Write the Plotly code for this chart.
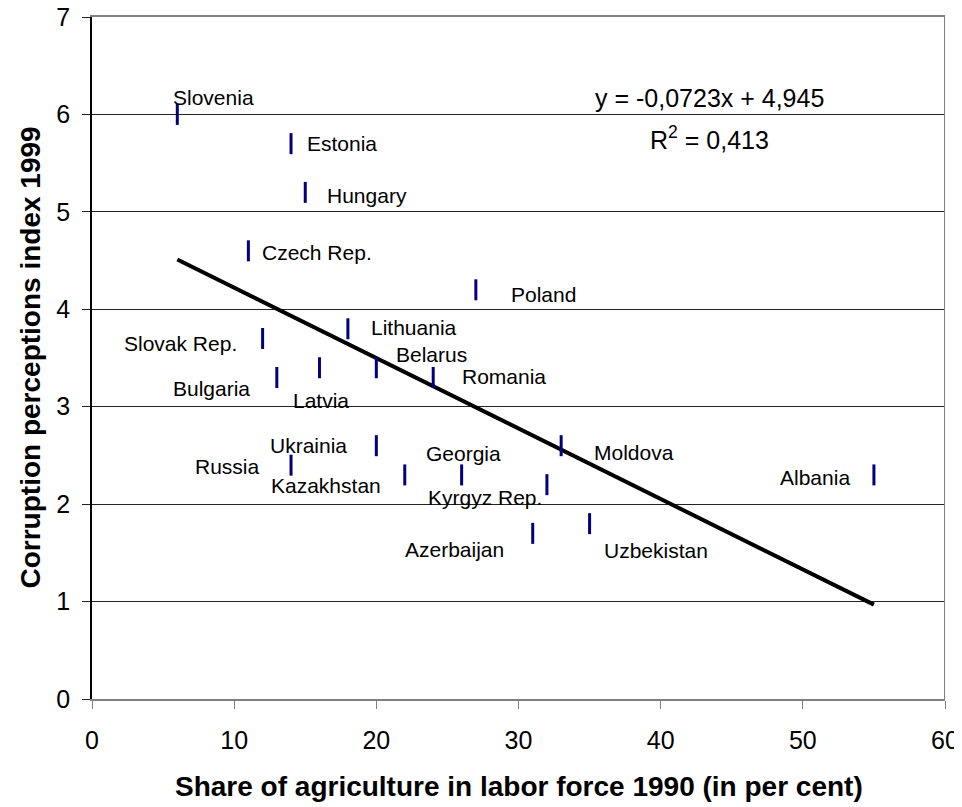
import numpy as np
import plotly.graph_objects as go

# data
countries = ['Slovenia', 'Estonia', 'Hungary', 'Czech Rep.', 'Poland', 'Lithuania',
             'Slovak Rep.', 'Bulgaria', 'Latvia', 'Belarus', 'Romania', 'Ukrainia',
             'Russia', 'Kazakhstan', 'Georgia', 'Moldova', 'Kyrgyz Rep.', 'Albania',
             'Azerbaijan', 'Uzbekistan']
agri_share = [6, 14, 15, 11, 27, 18, 12, 13, 16, 20, 24, 20, 14, 22, 26, 33, 32, 55, 31, 35]
cpi_1999 = [6.0, 5.7, 5.2, 4.6, 4.2, 3.8, 3.7, 3.3, 3.4, 3.4, 3.3, 2.6, 2.4, 2.3, 2.3, 2.6,
            2.2, 2.3, 1.7, 1.8]

trend_slope = -0.0723
trend_intercept = 4.945
equation_text = 'y = -0,0723x + 4,945'
r2_text = 'R<sup>2</sup> = 0,413'

x_ticks = [0, 10, 20, 30, 40, 50, 60]
y_ticks = [0, 1, 2, 3, 4, 5, 6, 7]

# label placement: (anchor, dx px, dy px down)
label_pos = {
    'Slovenia': ('left', -6, -17),
    'Estonia': ('left', 14, 0),
    'Hungary': ('left', 20, 3),
    'Czech Rep.': ('left', 12, 2),
    'Poland': ('left', 33, 5),
    'Lithuania': ('left', 21, -1),
    'Slovak Rep.': ('right', -24, 5),
    'Bulgaria': ('right', -25, 11),
    'Latvia': ('center', 2, 33),
    'Belarus': ('left', 18, -13),
    'Romania': ('left', 27, -1),
    'Ukrainia': ('right', -27, 0),
    'Russia': ('right', -29, 1),
    'Kazakhstan': ('right', -22, 11),
    'Georgia': ('center', 2, -21),
    'Moldova': ('left', 31, 7),
    'Kyrgyz Rep.': ('right', -3, 13),
    'Albania': ('right', -22, 3),
    'Azerbaijan': ('right', -27, 16),
    'Uzbekistan': ('left', 12, 27),
}

FONT = 'Liberation Sans, Arial, sans-serif'
OFF = 8  # default body margin of the html page
W, H = 962 - OFF, 807 - OFF
ML, MR, MT, MB = 92 - OFF, 17, 17 - OFF, 108
pw = W - ML - MR
ph = H - MT - MB
bottom = MT + ph + OFF  # window pixel of y=0

fig = go.Figure()

tx = np.array([min(agri_share), max(agri_share)])
fig.add_trace(go.Scatter(
    x=tx, y=trend_slope * tx + trend_intercept,
    mode='lines', line=dict(color='black', width=4),
    hoverinfo='skip', showlegend=False
))

fig.add_trace(go.Scatter(
    x=agri_share, y=cpi_1999, mode='markers', text=countries,
    marker=dict(symbol='line-ns', size=15, line=dict(width=3, color='#000080')),
    showlegend=False
))

annotations = []
for name, xv, yv in zip(countries, agri_share, cpi_1999):
    anchor, dx, dy = label_pos[name]
    annotations.append(dict(
        x=xv, y=yv, xref='x', yref='y', text=name, showarrow=False,
        xanchor=anchor, yanchor='middle', xshift=dx, yshift=-dy,
        font=dict(family=FONT, size=21, color='black')
    ))

# trendline equation
annotations.append(dict(x=(709 - 92) / pw, y=(bottom - 98) / ph, xref='paper', yref='paper',
                        text=equation_text, showarrow=False, xanchor='center', yanchor='middle',
                        font=dict(family=FONT, size=25, color='black')))
annotations.append(dict(x=(709 - 92) / pw, y=(bottom - 138) / ph, xref='paper', yref='paper',
                        text=r2_text, showarrow=False, xanchor='center', yanchor='middle',
                        font=dict(family=FONT, size=25, color='black')))

# axis titles
annotations.append(dict(x=0.5, y=(bottom - 787) / ph, xref='paper', yref='paper',
                        text='<b>Share of agriculture in labor force 1990 (in per cent)</b>',
                        showarrow=False, xanchor='center', yanchor='middle',
                        font=dict(family=FONT, size=28, color='black')))
annotations.append(dict(x=(29.5 - 92) / pw, y=0.5, xref='paper', yref='paper',
                        text='<b>Corruption perceptions index 1999</b>', textangle=-90,
                        showarrow=False, xanchor='center', yanchor='middle',
                        font=dict(family=FONT, size=28, color='black')))

fig.update_layout(
    width=W, height=H,
    margin=dict(l=ML, r=MR, t=MT, b=MB, autoexpand=False),
    paper_bgcolor='white', plot_bgcolor='white',
    annotations=annotations,
    shapes=[dict(type='line', xref='x', yref='paper', x0=60, x1=60, y0=0, y1=1,
                 line=dict(color='#808080', width=2))],
    font=dict(family=FONT, color='black'),
)

fig.update_xaxes(
    range=[0, 60], tickvals=x_ticks, showgrid=False, zeroline=False, automargin=False,
    showline=True, linecolor='#808080', linewidth=2, mirror=True,
    ticks='outside', ticklen=8, tickcolor='#808080', tickwidth=1,
    ticklabelstandoff=10, ticklabeloverflow='allow',
    tickfont=dict(family=FONT, size=25, color='black'),
)
fig.update_yaxes(
    range=[0, 7], tickvals=y_ticks, showgrid=True, gridcolor='#222222', gridwidth=1,
    zeroline=False, showline=True, linecolor='black', linewidth=1.5, automargin=False,
    ticks='outside', ticklen=8, tickcolor='#222222', tickwidth=1,
    ticklabelstandoff=7, ticklabeloverflow='allow',
    tickfont=dict(family=FONT, size=25, color='black'),
)

fig.write_html('out.html')
